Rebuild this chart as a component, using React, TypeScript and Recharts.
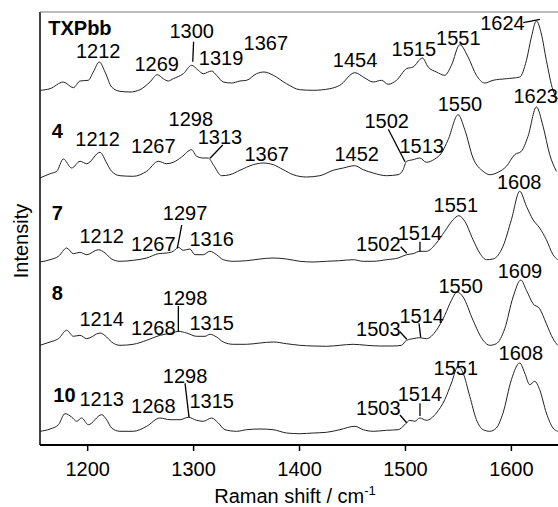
import React from 'react';
import { LineChart, Line, XAxis, YAxis, ReferenceLine, ReferenceDot } from 'recharts';

// Raman spectra, [shift (cm-1), intensity above own baseline]
const txpbb: [number, number][] = [
  [1155, 1.7], [1164.5, 3.3], [1177, 10], [1186.5, 4.3], [1192.8, 11], [1200.6, 11.7], [1205.3, 20],
  [1211, 30], [1216.4, 20], [1222.6, 5], [1230.5, 0.7], [1240, 0], [1249.4, 2.3], [1258.8, 10],
  [1265.7, 17.3], [1271.4, 13.3], [1276.1, 11], [1280.8, 13.3], [1290.3, 18.3], [1298.1, 26.7],
  [1304.4, 21.7], [1309.1, 18.3], [1317, 21], [1321.7, 16.7], [1328, 10], [1335.8, 9], [1343.7, 11],
  [1350, 11.7], [1359.4, 18.3], [1366.4, 20], [1375.2, 16.7], [1387.7, 8.3], [1400.3, 2.3],
  [1412.9, 1.7], [1428.6, 3.3], [1438, 6.7], [1452.2, 19.3], [1461.6, 14], [1469.5, 10],
  [1477.4, 11.7], [1483.6, 7.7], [1491.5, 11.7], [1501, 23.3], [1507.2, 25], [1516, 34],
  [1521.4, 25], [1529.2, 20], [1537.1, 16.7], [1543.4, 26.7], [1551.3, 47.3], [1559.1, 35],
  [1567, 16.7], [1574.8, 9], [1582.7, 11.7], [1595.3, 13.3], [1607.9, 15], [1614.2, 31.7],
  [1618.9, 55], [1623.6, 71], [1628.3, 58], [1633, 31.7], [1639.3, 1.7], [1643.7, -6.7],
];

const compound4: [number, number][] = [
  [1155, -1], [1164.5, 3.3], [1170.8, 5.7], [1177, 18], [1184.9, 9], [1192.8, 15.7], [1199.1, 13.3],
  [1211.6, 24.7], [1217.9, 14], [1222.6, 5.7], [1230.5, 1.3], [1243, 0.7], [1255.7, 5.7],
  [1266.7, 15.7], [1274.5, 13.3], [1280.8, 14.7], [1288.7, 20], [1298.1, 27.3], [1302.8, 20.7],
  [1309.1, 19], [1313.8, 19], [1318.6, 12.3], [1326.4, 1.3], [1334.3, 2.3], [1343.7, 6.7],
  [1356.3, 12.3], [1365.7, 14], [1375.2, 12.3], [1384.6, 7.3], [1394, 2.3], [1406.6, 0],
  [1419.2, 1.3], [1431.8, 6.7], [1441.2, 9], [1452.2, 11.3], [1460.1, 7.3], [1469.5, 4],
  [1482.1, 1.3], [1493.1, 2.3], [1497.8, 7.3], [1501, 15.7], [1507.2, 17.3], [1513.5, 19],
  [1519.8, 14.7], [1527.7, 18], [1534, 24], [1540.3, 37.3], [1549.7, 62.3], [1556, 47.3],
  [1563.8, 19], [1573.3, 5.7], [1579.6, 2.3], [1587.4, 4.7], [1595.3, 10.7], [1603.1, 22.3],
  [1609.4, 25.7], [1615.7, 40.7], [1623.6, 70], [1629.9, 50.7], [1636.2, 22.3], [1642.5, 5.7],
];

const compound7: [number, number][] = [
  [1155, 0], [1164.5, 2.3], [1172.4, 5.7], [1180.2, 14], [1186.5, 8.3], [1192.8, 9.7], [1199.1, 7.3],
  [1210.1, 12.3], [1216.4, 9], [1222.6, 3], [1230.5, 0.7], [1243, 1.7], [1255.7, 4], [1266.7, 8.3],
  [1274.5, 9], [1280.8, 10.7], [1285.5, 14.7], [1290.3, 11.7], [1296.5, 13], [1301.3, 7.3],
  [1309.1, 7.3], [1315.4, 10.7], [1321.7, 7.3], [1328, 2.3], [1337.4, 0.7], [1350, 1.3],
  [1362.6, 3], [1375.2, 4], [1387.7, 3], [1400.3, 0.7], [1412.9, 0], [1425.5, 0.7], [1438, 1.3],
  [1450.6, 2.3], [1460.1, 0.7], [1469.5, 0.7], [1482.1, 2.3], [1493.1, 4], [1501, 7.3],
  [1507.2, 8.3], [1513.5, 10.7], [1519.8, 10.7], [1529.2, 19], [1537.1, 30.7], [1545, 42.3],
  [1550.3, 46.3], [1556, 40.7], [1563.8, 22.3], [1570.1, 9], [1576.4, 2.3], [1582.7, 3],
  [1592.1, 15.7], [1600, 42.3], [1607.9, 70.7], [1614.2, 55.7], [1620.4, 42.3], [1626.7, 34],
  [1633, 22.3], [1639.3, 7.3], [1643.7, 2.3],
];

const compound8: [number, number][] = [
  [1155, 0.7], [1164.5, 4], [1172.4, 7.3], [1180.2, 15.7], [1186.5, 9.7], [1192.8, 10.7],
  [1199.1, 7.3], [1211.6, 13], [1217.9, 9], [1222.6, 4], [1230.5, 0.7], [1243, 1.7], [1255.7, 5.7],
  [1268.2, 10.7], [1280.8, 13.3], [1285.5, 14.7], [1293.4, 13], [1302.8, 9.7], [1310.7, 9.7],
  [1315.4, 11.7], [1321.7, 9], [1328, 4], [1337.4, 1.7], [1350, 1.7], [1362.6, 3], [1375.2, 4],
  [1387.7, 2.3], [1400.3, 0.7], [1412.9, 0], [1425.5, -0.3], [1438, 0.7], [1450.6, 1.7],
  [1463.2, 0.7], [1475.8, 0], [1488.4, 0], [1496.2, 0.7], [1501, 5.7], [1507.2, 7.3], [1513.5, 8.3],
  [1519.8, 7.3], [1529.2, 15.7], [1537.1, 30.7], [1543.4, 45.7], [1548.7, 54], [1554.4, 49],
  [1563.8, 25.7], [1573.3, 5.7], [1579.6, 0.7], [1585.8, 2.3], [1593.7, 17.3], [1601.6, 49],
  [1608.9, 66], [1614.2, 55.7], [1620.4, 42.3], [1626.7, 37.3], [1633, 22.3], [1639.3, 7.3],
  [1643.7, 0.7],
];

const compound10: [number, number][] = [
  [1155, 1.7], [1164.5, 4], [1172.4, 8.3], [1178.6, 19.3], [1184.9, 16], [1189.6, 11.7],
  [1194.3, 15], [1200.6, 8.3], [1213.2, 18.3], [1217.9, 13.3], [1222.6, 5], [1230.5, 1.7],
  [1243, 1.7], [1255.7, 6.7], [1268.2, 15], [1277.7, 13.3], [1287.1, 13.3], [1295, 15.7],
  [1302.8, 12.7], [1309.1, 11.7], [1317, 15], [1323.3, 10], [1329.6, 3.3], [1340.6, 1.7],
  [1350, 3.3], [1362.6, 4], [1375.2, 3.3], [1387.7, 0], [1400.3, -0.7], [1412.9, 0], [1425.5, 0.7],
  [1438, 3.3], [1452.2, 6.7], [1460.1, 3.3], [1469.5, 1.7], [1482.1, 2.7], [1493.1, 3.3],
  [1499.4, 8.3], [1504.1, 12.7], [1508.8, 11.7], [1513.5, 15], [1519.8, 12.7], [1529.2, 20],
  [1537.1, 33.3], [1543.4, 50], [1549.7, 66.7], [1554.4, 60], [1560.7, 36.7], [1567, 13.3],
  [1573.3, 3.3], [1579.6, 1.7], [1585.8, 5], [1592.1, 20], [1600, 53.3], [1607.9, 70],
  [1612.6, 60], [1617.3, 48.3], [1622, 51.7], [1626.7, 43.3], [1633, 20], [1639.3, 5], [1643.7, 1.7],
];

const spectrumNames = ['TXPbb', '4', '7', '8', '10'];
const spectrumOffsets = [353, 268, 183, 99, 12];
const spectra = [txpbb, compound4, compound7, compound8, compound10];

const shiftTicks = [1200, 1300, 1400, 1500, 1600];

// [text, shift, level] for the spectrum names (left aligned, bold)
const nameLabels: [string, number, number][] = [
  ['TXPbb', 1162.8, 417.5], ['4', 1166, 314], ['7', 1166, 232], ['8', 1166, 152], ['10', 1167.6, 50],
];

// [text, shift, level] peak labels
const peakLabels: [string, number, number][] = [
  ['1212', 1210, 394.2], ['1269', 1265.2, 381], ['1300', 1298.2, 414.2], ['1319', 1325.9, 387.5],
  ['1367', 1368.2, 401.7], ['1454', 1452.4, 385], ['1515', 1507.9, 396], ['1551', 1549.9, 407.5],
  ['1624', 1591.6, 422.5],
  ['1212', 1209.3, 306], ['1267', 1262, 299.2], ['1298', 1297.4, 326], ['1313', 1324.9, 308.2],
  ['1367', 1369, 291], ['1452', 1454, 291], ['1502', 1482.3, 324.2], ['1513', 1515.3, 299.2],
  ['1550', 1551.5, 341], ['1623', 1623, 349.2],
  ['1212', 1213.2, 209.5], ['1267', 1262, 201], ['1297', 1291.9, 232.2], ['1316', 1317.1, 206],
  ['1502', 1474.4, 201], ['1514', 1513.7, 212.5], ['1551', 1547.5, 240], ['1608', 1607.4, 263.3],
  ['1214', 1213.2, 126], ['1268', 1262, 117.5], ['1298', 1291.9, 147.5], ['1315', 1317.1, 122.5],
  ['1503', 1474.4, 116], ['1514', 1515.3, 129], ['1550', 1552.2, 159], ['1609', 1608.1, 174],
  ['1213', 1213.2, 46], ['1268', 1262, 39], ['1298', 1291.9, 69], ['1315', 1317.1, 44],
  ['1503', 1474.4, 37.5], ['1514', 1513.7, 51], ['1551', 1547.5, 77.5], ['1608', 1608.9, 92],
];

// leader lines [shift1, level1, shift2, level2]
const leaders: [number, number, number, number][] = [
  [1300, 403.3, 1299.2, 383.3], [1611.2, 422.3, 1627, 425.7],
  [1327.5, 300, 1315.5, 286.7], [1483.8, 315.7, 1499.6, 283.3],
  [1288.8, 220, 1284.6, 196.7], [1495.5, 198.3, 1501.2, 191.7], [1513.7, 203.3, 1513.7, 193.3],
  [1285.6, 139, 1285.6, 113.3], [1494.8, 113.3, 1501.2, 105.7], [1512.8, 121.7, 1514.4, 107.7],
  [1291.9, 61.7, 1295.7, 27.7], [1494.8, 30, 1501.2, 22.3], [1513.7, 41.7, 1513.7, 29],
];

const FONT = "'Liberation Sans', Arial, sans-serif";

const textAt = (text: string, bold: boolean, anchor: 'start' | 'middle') => (props: any) => {
  const vb = props.viewBox || {};
  const cx = vb.x + (vb.width || 0) / 2;
  const cy = vb.y + (vb.height || 0) / 2;
  return (
    <text x={cx} y={cy} textAnchor={anchor} dominantBaseline="central" fontSize={20}
      fontWeight={bold ? 'bold' : 'normal'} fontFamily={FONT} fill="#000">
      {text}
    </text>
  );
};

const XTitle = () => (
  <text x={287} y={495} textAnchor="middle" fontSize={20} fontFamily={FONT} fill="#000">
    Raman shift / cm<tspan dy={-8} fontSize={13}>-1</tspan>
  </text>
);

const YTitle = () => (
  <text x={20} y={233} transform="rotate(-90 20 233)" textAnchor="middle" fontSize={20}
    fontFamily={FONT} fill="#000">
    Intensity
  </text>
);

export default function App() {
  const series = spectra.map((pts, i) => pts.map(([w, v]) => ({ w, y: v + spectrumOffsets[i] })));

  return (
    <div style={{ position: 'absolute', left: 8, top: 8, width: 550, height: 499, overflow: 'hidden' }}>
      <LineChart width={550} height={499} margin={{ top: 4, right: 0, bottom: 0, left: 32 }}>
        <XAxis
          type="number"
          dataKey="w"
          domain={[1155, 1644]}
          allowDataOverflow
          ticks={shiftTicks}
          tickSize={6}
          tickMargin={11}
          height={62}
          tick={{ fontSize: 20, fill: '#000', fontFamily: FONT }}
          tickLine={{ stroke: '#000', strokeWidth: 1.5 }}
          axisLine={{ stroke: '#000', strokeWidth: 2 }}
          label={() => <XTitle />}
        />
        <YAxis type="number" domain={[0, 433]} hide allowDataOverflow />
        <ReferenceLine x={1155} stroke="#000" strokeWidth={1.5} label={() => <YTitle />} />
        <ReferenceLine y={433} stroke="#777" strokeWidth={1} />
        {series.map((d, i) => (
          <Line
            key={spectrumNames[i]}
            data={d}
            dataKey="y"
            type="monotone"
            stroke="#222"
            strokeWidth={1}
            dot={false}
            isAnimationActive={false}
          />
        ))}
        {leaders.map(([x1, y1, x2, y2], i) => (
          <ReferenceLine
            key={`ld-${i}`}
            segment={[{ x: x1, y: y1 }, { x: x2, y: y2 }]}
            stroke="#000"
            strokeWidth={1.3}
          />
        ))}
        {nameLabels.map(([t, w, v], i) => (
          <ReferenceDot key={`nm-${i}`} x={w} y={v} r={1} fill="none" stroke="none"
            label={textAt(t, true, 'start')} />
        ))}
        {peakLabels.map(([t, w, v], i) => (
          <ReferenceDot key={`pk-${i}`} x={w} y={v} r={1} fill="none" stroke="none"
            label={textAt(t, false, 'middle')} />
        ))}
      </LineChart>
    </div>
  );
}
